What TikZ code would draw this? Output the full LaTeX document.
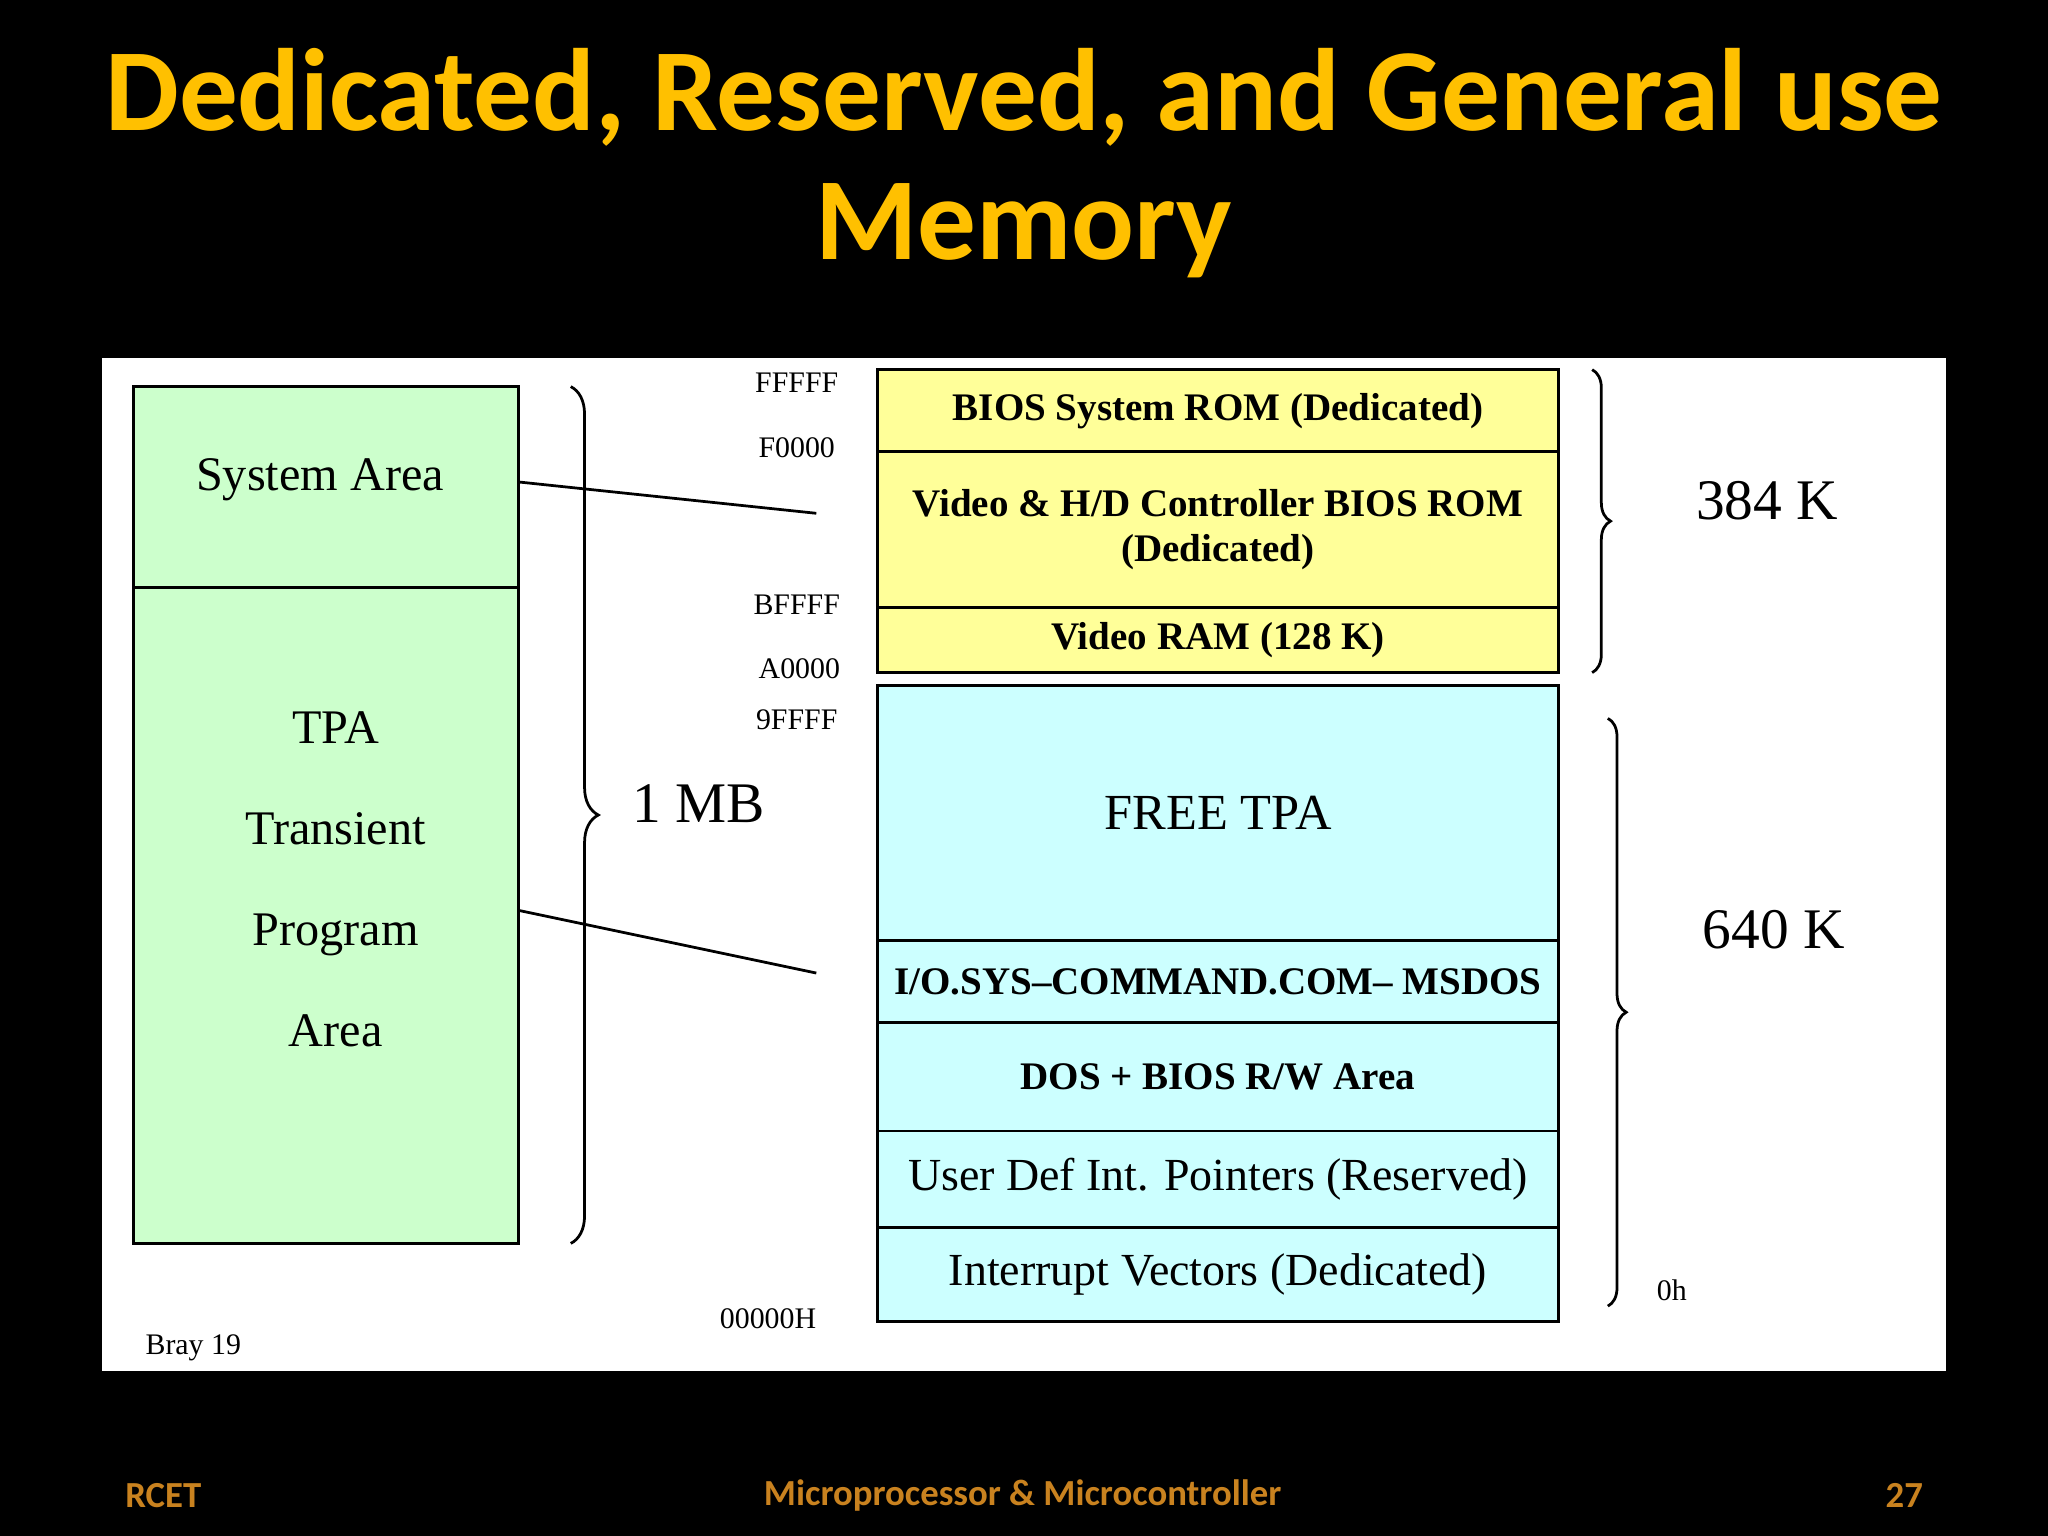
\documentclass[tikz,border=0pt]{standalone}
\usepackage{fontspec}
\setmainfont{Liberation Serif}
\newfontfamily\calfont{Carlito}
\usetikzlibrary{decorations.pathreplacing}
\definecolor{ttl}{HTML}{FFC000}
\definecolor{ftr}{HTML}{C9821F}
\definecolor{grn}{HTML}{CCFFCC}
\definecolor{yel}{HTML}{FFFF99}
\definecolor{cyn}{HTML}{CCFFFF}
\tikzset{
 mem/.style={draw=black,line width=0.6pt,minimum width=5.21cm,inner sep=0pt,align=center,font=\fontsize{8.5}{10}\selectfont},
 addr/.style={font=\fontsize{6.5}{7}\selectfont,inner sep=0pt},
 brc/.style={decorate,decoration={brace,amplitude=4pt},line width=0.6pt},
 big/.style={font=\fontsize{12.5}{14}\selectfont,inner sep=0pt},
 ftx/.style={font=\calfont\bfseries\fontsize{8}{9}\selectfont,text=ftr,inner sep=0pt}
}
\begin{document}
\begin{tikzpicture}[x=0.01cm,y=-0.01cm]
\fill[black] (0,0) rectangle (1568,1176);
\useasboundingbox (0,0) rectangle (1568,1176);
\node[font=\calfont\bfseries\fontsize{25.5}{30}\selectfont,text=ttl,align=center] (title) at (784,125) {Dedicated, Reserved, and General use\\[-2pt]Memory};
\fill[white] (78,274) rectangle (1490,1050);
% left column
\draw[fill=grn,line width=0.6pt] (102,296) rectangle (397,952);
\draw[line width=0.6pt] (102,450) -- (397,450);
\node[font=\fontsize{10.5}{12}\selectfont] (sys) at (245,367) {System Area};
\node[font=\fontsize{10.5}{12}\selectfont,align=center] (tpa) at (257,673) {TPA\\[10pt]Transient\\[10pt]Program\\[10pt]Area};
\coordinate (s1) at (397,369); \coordinate (s2) at (625,393);
\coordinate (t1) at (397,697); \coordinate (t2) at (625,745);
\draw[line width=0.6pt] (s1) -- (s2);
\draw[line width=0.6pt] (t1) -- (t2);
\coordinate (b1) at (437,296); \coordinate (b2) at (437,952);
\draw[brc,decoration={amplitude=6pt}] (b1) -- (b2);
\node[big] (mb) at (535,615) {1 MB};
% addresses
\node[addr] (a1) at (610,293) {FFFFF};
\node[addr] (a2) at (610,343) {F0000};
\node[addr] (a3) at (610,463) {BFFFF};
\node[addr] (a4) at (612,512) {A0000};
\node[addr] (a5) at (610,551) {9FFFF};
\node[addr] (a6) at (588,1010) {00000H};
\node[addr] (bray) at (148,1032) {Bray 19};
% yellow
\node[mem,fill=yel,minimum height=0.63cm] (y1) at (932.5,314.5) {\textbf{BIOS System ROM (Dedicated)}};
\node[mem,fill=yel,minimum height=1.19cm] (y2) at (932.5,405.5) {\textbf{Video \& H/D Controller BIOS ROM}\\\textbf{(Dedicated)}};
\node[mem,fill=yel,minimum height=0.50cm] (y3) at (932.5,490) {\textbf{Video RAM (128 K)}};
% cyan
\node[mem,fill=cyn,minimum height=1.95cm,font=\fontsize{11}{12}\selectfont] (c1) at (932.5,622.5) {FREE TPA};
\node[mem,fill=cyn,minimum height=0.63cm] (c2) at (932.5,751.5) {\textbf{I/O.SYS--COMMAND.COM-- MSDOS}};
\node[mem,fill=cyn,minimum height=0.83cm] (c3) at (932.5,824.5) {\textbf{DOS + BIOS R/W Area}};
\node[mem,fill=cyn,minimum height=0.74cm,font=\fontsize{10}{12}\selectfont] (c4) at (932.5,903) {User Def Int. Pointers (Reserved)};
\node[mem,fill=cyn,minimum height=0.72cm,font=\fontsize{10}{12}\selectfont] (c5) at (932.5,976) {Interrupt Vectors (Dedicated)};
% right braces
\coordinate (r1) at (1219,283); \coordinate (r2) at (1219,515);
\coordinate (r3) at (1231,550); \coordinate (r4) at (1231,1000);
\draw[brc] (r1) -- (r2);
\draw[brc] (r3) -- (r4);
\node[big] (k384) at (1353,383) {384 K};
\node[big] (k640) at (1358,712) {640 K};
\node[addr] (oh) at (1280,988) {0h};
% footer
\node[ftx] (f1) at (125,1145) {RCET};
\node[ftx] (f2) at (783,1145) {Microprocessor \& Microcontroller};
\node[ftx] (f3) at (1458,1145) {27};
\end{tikzpicture}
\end{document}
